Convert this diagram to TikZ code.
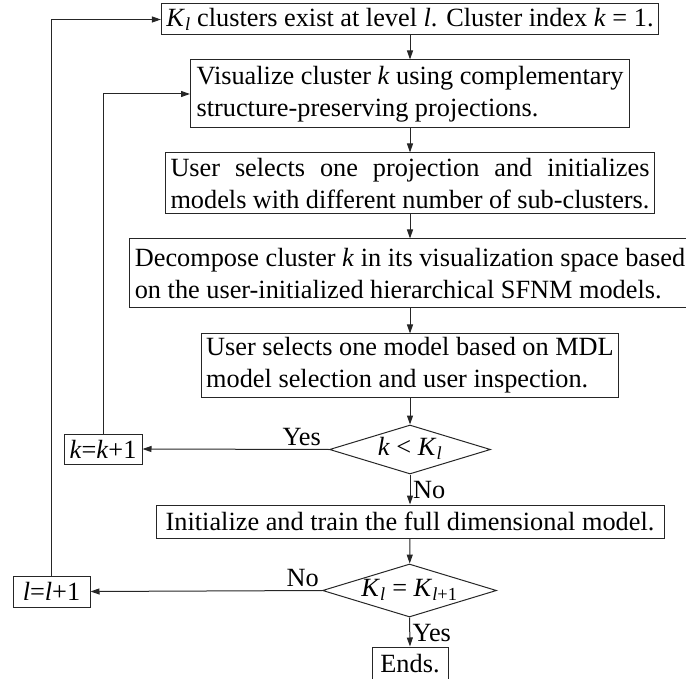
\documentclass[tikz,border=0pt]{standalone}
\usepackage{fontspec}
\setmainfont{Liberation Serif}
\usetikzlibrary{arrows.meta,shapes.geometric,calc}
\newcommand{\vk}{\textit{k}}
\newcommand{\vl}{\textit{l}}
\newcommand{\Kl}{\textit{K}\textsubscript{\textit{l}}}
\newcommand{\Klp}{\textit{K}\textsubscript{\textit{l}+1}}
\tikzset{
  txt/.style={font=\fontsize{26.3}{32}\selectfont},
  box/.style={txt, draw=black!85, line width=1pt, rectangle, inner xsep=5pt, inner ysep=0pt},
  dec/.style={txt, diamond, draw=black!85, line width=1pt, inner sep=0pt, aspect=3.3, text height=15pt, text depth=4pt},
  arr/.style={draw=black!85, line width=1pt, -{Triangle[length=9pt,width=6pt]}},
  lbl/.style={txt, inner sep=0pt}
}
\begin{document}
\begin{tikzpicture}[x=1pt,y=1pt]
\useasboundingbox (0,0) rectangle (686,-679);
\node[box, minimum width=489pt, minimum height=31pt] (b1) at (410,-19.5)
  {\Kl{} clusters exist at level \vl. Cluster index \vk{} = 1.};
\node[box, minimum width=439pt, minimum height=68pt, align=left] (b2) at (410,-94)
  {Visualize cluster \vk{} using complementary\\structure-preserving projections.};
\node[box, text width=479pt, minimum height=61pt, align=justify] (b3) at (410,-183.5)
  {User selects one projection and initializes\linebreak models with different number of sub-clusters.};
\node[box, minimum width=562pt, minimum height=69pt, align=left] (b4) at (410,-273.5)
  {Decompose cluster \vk{} in its visualization space based\\on the user-initialized hierarchical SFNM models.};
\node[box, minimum width=415pt, minimum height=63pt, align=left] (b5) at (410,-365.5)
  {User selects one model based on MDL\\model selection and user inspection.};
\node[dec, minimum width=161pt, minimum height=49pt] (d1) at (410,-449.5) {\vk{} < \Kl};
\node[box, inner xsep=0pt, minimum width=78pt, minimum height=30pt] (kb) at (103,-449) {\vk=\vk+1};
\node[box, minimum width=508pt, minimum height=33pt] (b6) at (410,-521.5)
  {Initialize and train the full dimensional model.};
\node[dec, minimum width=174pt, minimum height=53pt] (d2) at (409.5,-590.5) {\Kl{} = \Klp};
\node[box, inner xsep=0pt, minimum width=77pt, minimum height=31pt] (lb) at (51.5,-591.5) {\vl=\vl+1};
\node[box, minimum width=76pt, minimum height=34pt] (en) at (410,-664) {Ends.};

\draw[arr] (b1) -- (b2);
\draw[arr] (b2) -- (b3);
\draw[arr] (b3) -- (b4);
\draw[arr] (b4) -- (b5);
\draw[arr] (b5) -- (d1);
\draw[arr] (d1.south) -- (b6.north);
\draw[arr] (b6) -- (d2);
\draw[arr] (d2.south) -- (en.north);
\draw[arr] (d1.west) -- (kb.east);
\draw[arr] (d2.west) -- (lb.east);
\draw[arr] (kb.north) |- (b2.west);
\draw[arr] (lb.north) |- (b1.west);

\node[lbl, anchor=base east] (y1) at ($(d1.west)+(-8pt,4pt)$) {Yes};
\node[lbl, anchor=base east] (n2) at ($(d2.west)+(-3pt,4pt)$) {No};
\node[lbl, anchor=west] (n1) at ($(d1.south)+(3pt,-16pt)$) {No};
\node[lbl, anchor=west] (y2) at ($(d2.south)+(3pt,-16pt)$) {Yes};
\end{tikzpicture}
\end{document}
